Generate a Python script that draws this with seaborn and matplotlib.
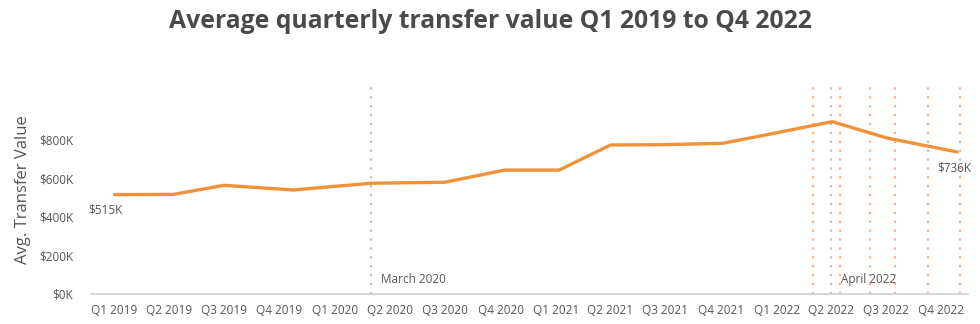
import matplotlib
matplotlib.use("Agg")
import matplotlib.pyplot as plt
import pandas as pd
import seaborn as sns

# ---- data ----
point_dates = ["2019-01-01", "2019-04-08", "2019-07-01", "2019-10-24", "2020-03-01",
               "2020-07-01", "2020-10-08", "2021-01-06", "2021-04-01", "2021-07-01",
               "2021-10-04", "2022-01-04", "2022-04-03", "2022-07-03", "2022-10-27"]
avg_value_k = [515, 516, 563, 539, 574, 579, 642, 642, 772, 774, 781, 837, 893, 808, 736]

tick_dates = ["2019-01-01", "2019-04-01", "2019-07-01", "2019-10-01",
              "2020-01-01", "2020-04-01", "2020-07-01", "2020-10-01",
              "2021-01-01", "2021-04-01", "2021-07-01", "2021-10-01",
              "2022-01-01", "2022-04-01", "2022-07-01", "2022-10-01"]
tick_labels = ["Q1 2019", "Q2 2019", "Q3 2019", "Q4 2019",
               "Q1 2020", "Q2 2020", "Q3 2020", "Q4 2020",
               "Q1 2021", "Q2 2021", "Q3 2021", "Q4 2021",
               "Q1 2022", "Q2 2022", "Q3 2022", "Q4 2022"]

event_dates = ["2020-03-01", "2022-04-01"]
event_labels = ["March 2020", "April 2022"]
rate_dates = ["2022-03-03", "2022-04-16", "2022-06-04", "2022-07-16", "2022-09-09", "2022-11-01"]

y_ticks_k = [0, 200, 400, 600, 800]

# ---- styling ----
sns.set_theme(style="white")
plt.rcParams["font.family"] = ["Open Sans", "DejaVu Sans"]

TEXT = "#555555"
ORANGE = "#F0923A"
RATE_COLOR = "#F3B28C"
EVENT_COLOR = "#BDBDBD"

df = pd.DataFrame({"date": pd.to_datetime(point_dates), "value": avg_value_k})

fig = plt.figure(figsize=(9.8, 3.24), dpi=100)
ax = fig.add_axes([0.0929, 0.0926, 0.8949, 0.6451])

DOTS = (0, (1, 3))
for d in rate_dates:
    ax.axvline(pd.Timestamp(d), color=RATE_COLOR, linestyle=DOTS, linewidth=1.6, zorder=1)
for d, lab in zip(event_dates, event_labels):
    ax.axvline(pd.Timestamp(d), color=EVENT_COLOR, linestyle=DOTS, linewidth=1.6, zorder=1)
    ax.annotate(lab, xy=(pd.Timestamp(d), 0), xytext=(7, 6), textcoords="offset points",
                ha="left", va="bottom", fontsize=8.5, color=TEXT)

sns.lineplot(data=df, x="date", y="value", ax=ax, color=ORANGE, linewidth=2.4, zorder=3)

# end labels
first, last = df.iloc[0], df.iloc[-1]
ax.annotate(f"${first['value']}K", xy=(first["date"], first["value"]), xytext=(-6.5, -11),
            textcoords="offset points", ha="center", va="center", fontsize=8.5, color=TEXT)
ax.annotate(f"${last['value']}K", xy=(last["date"], last["value"]), xytext=(-2, -11.5),
            textcoords="offset points", ha="center", va="center", fontsize=8.5, color=TEXT)

ax.set_xlim(pd.Timestamp("2018-11-23"), pd.Timestamp("2022-11-14"))
ax.set_ylim(0, 1083)
ax.set_xticks(pd.to_datetime(tick_dates))
ax.set_xticklabels(tick_labels)
ax.set_yticks(y_ticks_k)
ax.set_yticklabels([f"${v}K" for v in y_ticks_k])
ax.tick_params(axis="both", length=0, labelsize=8.5, colors=TEXT)
ax.tick_params(axis="x", pad=7)
ax.tick_params(axis="y", pad=13)

for s in ["top", "right", "left"]:
    ax.spines[s].set_visible(False)
ax.spines["bottom"].set_color("#D0D0D0")
ax.spines["bottom"].set_linewidth(1.2)

ax.set_xlabel("")
ax.set_ylabel("Avg. Transfer Value", fontsize=12, color=TEXT, labelpad=6)

fig.text(0.5, 0.935, "Average quarterly transfer value Q1 2019 to Q4 2022",
         ha="center", va="center", fontsize=17.8, fontweight="bold", color="#4A4A4A")

fig.savefig("out.png", dpi=100)
